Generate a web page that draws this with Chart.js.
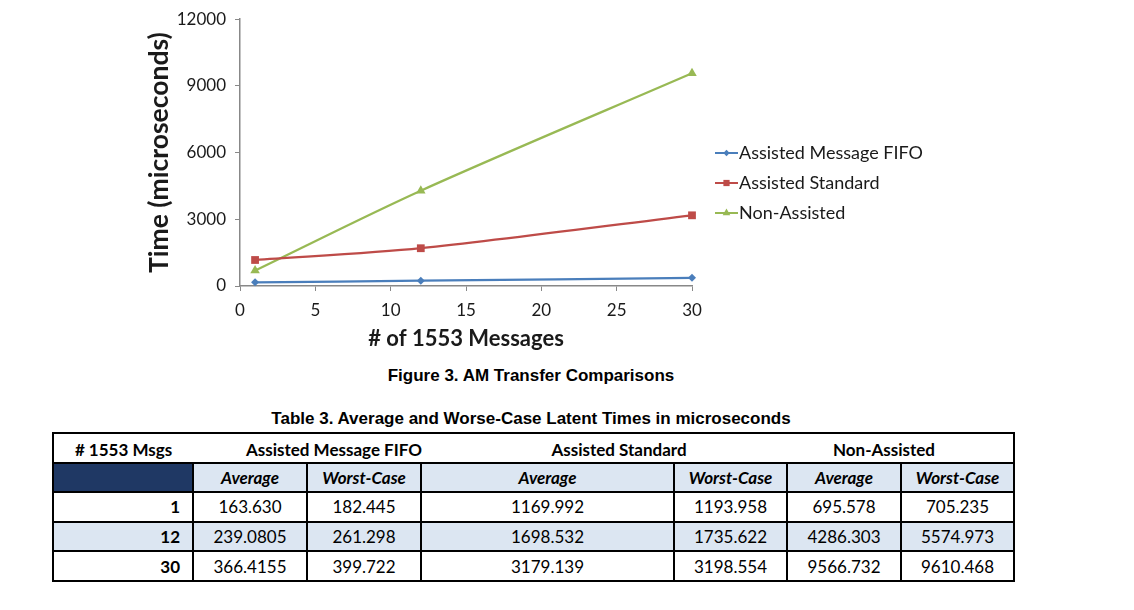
<!DOCTYPE html>
<html>
<head>
<meta charset="utf-8">
<script src="https://cdn.jsdelivr.net/npm/chart.js@4.4.1/dist/chart.umd.min.js"></script>
<style>
  html, body { margin: 0; padding: 0; background: #ffffff; width: 1134px; height: 610px; overflow: hidden; }
  #wrap { position: absolute; left: 0; top: 0; width: 1134px; height: 360px; }
  .cap { position: absolute; left: 0; width: 1062px; text-align: center; font-family: "Liberation Sans", Arial, sans-serif; font-weight: bold; font-size: 17px; color: #000; }
  #tbl { position: absolute; left: 52px; top: 432px; border-collapse: collapse; font-family: Lato, "Open Sans", sans-serif; font-size: 17px; color: #000; table-layout: fixed; }
  #tbl td { border: 2px solid #000; height: 27.6px; padding: 0; text-align: center; white-space: nowrap; }
  #tbl tr.hdr td { border-left: none; border-right: none; font-weight: bold; padding-top: 3px; height: 24.6px; }
  #tbl tr.hdr td:first-child { border-left: 2px solid #000; }
  #tbl tr.hdr td:last-child { border-right: 2px solid #000; }
  #tbl tr.hdr td span { position: relative; }
  #tbl tr.sub td { background: #dce6f2; font-weight: bold; font-style: italic; }
  #tbl tr.sub td.navy { background: #1f3864; }
  #tbl td.num { font-weight: bold; text-align: right; padding-right: 12px; }
  #tbl tr.alt td { background: #dce6f2; }
</style>
</head>
<body>
<div id="wrap"><canvas id="c" width="1134" height="360"></canvas></div>
<div class="cap" style="top:366px;">Figure 3. AM Transfer Comparisons</div>
<div class="cap" style="top:409px;">Table 3. Average and Worse-Case Latent Times in microseconds</div>
<table id="tbl"></table>
<script>
// ---- data ----
const messages = [1, 12, 30];
const seriesNames = ["Assisted Message FIFO", "Assisted Standard", "Non-Assisted"];
const fifoAvg = [163.630, 239.0805, 366.4155];
const fifoWorst = [182.445, 261.298, 399.722];
const stdAvg = [1169.992, 1698.532, 3179.139];
const stdWorst = [1193.958, 1735.622, 3198.554];
const nonAvg = [695.578, 4286.303, 9566.732];
const nonWorst = [705.235, 5574.973, 9610.468];
const fifoAvgText = ["163.630", "239.0805", "366.4155"];
const fifoWorstText = ["182.445", "261.298", "399.722"];
const stdAvgText = ["1169.992", "1698.532", "3179.139"];
const stdWorstText = ["1193.958", "1735.622", "3198.554"];
const nonAvgText = ["695.578", "4286.303", "9566.732"];
const nonWorstText = ["705.235", "5574.973", "9610.468"];
const xTickMin = 0, xTickMax = 30, xTickStep = 5;
const yTickMin = 0, yTickMax = 12000, yTickStep = 3000;
const xTitle = "# of 1553 Messages";
const yTitle = "Time (microseconds)";
const tableHeader = ["# 1553 Msgs", "Assisted Message FIFO", "Assisted Standard", "Non-Assisted"];
const subHeader = ["Average", "Worst-Case"];

// ---- table ----
(function buildTable() {
  const t = document.getElementById('tbl');
  const widths = [140, 114, 114, 253, 113, 114, 113];
  const hdrShift = [0, 27, 15, -16];
  const cg = document.createElement('colgroup');
  widths.forEach(w => { const c = document.createElement('col'); c.style.width = w + 'px'; cg.appendChild(c); });
  t.appendChild(cg);
  let tr = document.createElement('tr'); tr.className = 'hdr';
  tableHeader.forEach((h, i) => {
    const td = document.createElement('td');
    const sp = document.createElement('span'); sp.textContent = h; sp.style.left = hdrShift[i] + 'px';
    td.appendChild(sp);
    if (i > 0) td.colSpan = 2;
    tr.appendChild(td);
  });
  t.appendChild(tr);
  tr = document.createElement('tr'); tr.className = 'sub';
  let td = document.createElement('td'); td.className = 'navy'; tr.appendChild(td);
  for (let k = 0; k < 3; k++) subHeader.forEach(s => { const d = document.createElement('td'); d.textContent = s; tr.appendChild(d); });
  t.appendChild(tr);
  const cols = [fifoAvgText, fifoWorstText, stdAvgText, stdWorstText, nonAvgText, nonWorstText];
  messages.forEach((m, r) => {
    const row = document.createElement('tr'); if (r === 1) row.className = 'alt';
    const c0 = document.createElement('td'); c0.className = 'num'; c0.textContent = m; row.appendChild(c0);
    cols.forEach(col => { const d = document.createElement('td'); d.textContent = col[r]; row.appendChild(d); });
    t.appendChild(row);
  });
})();

// ---- chart ----
const colors = ["#4a7ebb", "#be4b48", "#98b954"];
const styles = ["rectRot", "rect", "triangle"];
const radii = [4, 5.5, 5.5];
const seriesAvg = [fifoAvg, stdAvg, nonAvg];

const datasets = seriesAvg.map((vals, i) => ({
  label: seriesNames[i],
  data: messages.map((m, j) => ({ x: m, y: vals[j] })),
  borderColor: colors[i],
  backgroundColor: colors[i],
  borderWidth: 2.25,
  pointStyle: styles[i],
  pointRadius: radii[i],
  pointBorderWidth: 0,
  pointBackgroundColor: colors[i],
  tension: 0.3,
  clip: false,
  fill: false
}));

const legendPlugin = {
  id: 'customLegend',
  afterDraw(chart) {
    const ctx = chart.ctx;
    const ca = chart.chartArea;
    const x0 = ca.right + 23;
    ctx.save();
    chart.data.datasets.forEach((ds, i) => {
      const y = 153 + i * 30;
      ctx.strokeStyle = ds.borderColor;
      ctx.lineWidth = 2;
      ctx.beginPath(); ctx.moveTo(x0, y); ctx.lineTo(x0 + 23, y); ctx.stroke();
      ctx.fillStyle = ds.borderColor;
      Chart.helpers.drawPoint(ctx, { pointStyle: ds.pointStyle, radius: ds.pointRadius * 0.8, rotation: 0, borderWidth: 0 }, x0 + 11.5, y);
      ctx.fillStyle = '#1a1a1a';
      ctx.font = '18px Lato, "Open Sans", sans-serif';
      ctx.textBaseline = 'middle';
      ctx.textAlign = 'left';
      ctx.fillText(ds.label, x0 + 24, y);
    });
    ctx.restore();
  }
};

new Chart(document.getElementById('c'), {
  type: 'line',
  data: { datasets },
  plugins: [legendPlugin],
  options: {
    responsive: false,
    animation: false,
    events: [],
    layout: { padding: { left: 140, right: 442, top: 17, bottom: 4 } },
    plugins: { legend: { display: false }, tooltip: { enabled: false } },
    scales: {
      x: {
        type: 'linear',
        min: xTickMin, max: xTickMax,
        ticks: { stepSize: xTickStep, padding: 9, color: '#1a1a1a', font: { family: 'Lato', size: 17 } },
        grid: { display: true, drawOnChartArea: false, drawTicks: true, tickLength: 5, color: '#888888' },
        border: { display: true, color: '#888888', width: 1.5 },
        title: { display: true, text: xTitle, color: '#1a1a1a', font: { family: 'Lato', size: 22, weight: 'bold' }, padding: { top: 0, bottom: 4 } },
        afterFit(scale) { scale.height = 70; }
      },
      y: {
        type: 'linear',
        min: yTickMin, max: yTickMax,
        ticks: { stepSize: yTickStep, padding: 9, color: '#1a1a1a', font: { family: 'Lato', size: 17 }, callback: v => String(v) },
        grid: { display: true, drawOnChartArea: false, drawTicks: true, tickLength: 5, color: '#888888' },
        border: { display: true, color: '#888888', width: 1.5 },
        title: { display: true, text: yTitle, color: '#1a1a1a', font: { family: 'Lato', size: 26.5, weight: 'bold' }, padding: { top: 4, bottom: 0 } },
        afterFit(scale) { scale.width = 100; }
      }
    }
  }
});
</script>
</body>
</html>
